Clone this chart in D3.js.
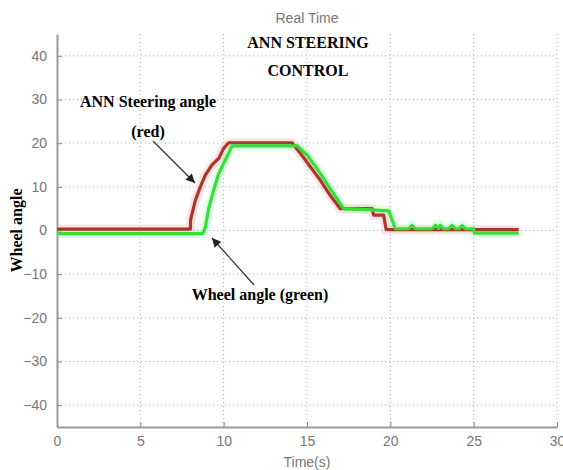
<!DOCTYPE html>
<html>
<head>
<meta charset="utf-8">
<script src="https://cdn.jsdelivr.net/npm/d3@7"></script>
<style>
  body { margin: 0; background: #fff; }
  svg { display: block; }
</style>
</head>
<body>
<div id="chart"></div>
<script>
// data
var xTicks = [0, 5, 10, 15, 20, 25, 30];
var yTicks = [-40, -30, -20, -10, 0, 10, 20, 30, 40];

// ANN steering angle (red)
var redTime  = [0, 8.0, 8.02, 8.3, 8.6, 8.9, 9.3, 9.7, 10.0, 10.3, 14.1, 14.6, 15.2, 15.8, 16.4, 17.0, 18.9, 19.0, 19.6, 19.75, 27.7];
var redAngle = [0.3, 0.3, 2.5, 6.9, 10, 12.7, 15, 16.5, 18.8, 20.1, 20.1, 17.7, 14.6, 11.5, 8, 5, 5, 3.5, 3.5, 0.2, 0.2];

// wheel angle (green)
var greenTime  = [0, 8.75, 8.9, 9.1, 9.4, 9.7, 10.0, 10.25, 10.5, 14.4, 15.0, 15.6, 16.2, 16.8, 17.2, 18.6, 19.9, 20.3, 21.1, 21.3, 21.5, 22.5, 22.7, 22.9, 23.0, 23.2, 23.5, 23.7, 23.9, 24.1, 24.3, 24.5, 25.0, 25.05, 27.7];
var greenAngle = [-0.7, -0.7, 0.8, 5, 9.2, 13, 15.4, 17.3, 19.4, 19.4, 17.3, 14.2, 10.7, 7.3, 5, 4.8, 4.5, 0.4, 0.4, 1.2, 0.4, 0.4, 1.2, 0.5, 1.2, 0.4, 0.4, 1.2, 0.4, 0.4, 1.1, 0.4, 0.4, -0.6, -0.6];

var width = 563, height = 470
  , margin = { left: 57, right: 6, top: 34, bottom: 43 }
;

var svg = d3.select('#chart').append('svg')
    .attr('width', width)
    .attr('height', height);

svg.append('rect').attr('width', width).attr('height', height).attr('fill', '#fff');

var x = d3.scaleLinear().domain([0, 30]).range([margin.left, width - margin.right]);
var y = d3.scaleLinear().domain([-45, 45]).range([height - margin.bottom, margin.top]);

var defs = svg.append('defs');
defs.append('marker')
    .attr('id', 'arrow')
    .attr('viewBox', '0 0 10 10')
    .attr('refX', 10).attr('refY', 5)
    .attr('markerWidth', 12).attr('markerHeight', 9)
    .attr('markerUnits', 'userSpaceOnUse')
    .attr('orient', 'auto')
  .append('path')
    .attr('d', 'M0,0 L10,5 L0,10 z')
    .attr('fill', '#222');

// grid
var grid = svg.append('g').attr('class', 'grid')
    .attr('stroke', '#aaa').attr('stroke-width', 1).attr('stroke-dasharray', '1,3');

grid.selectAll('line.gx').data(xTicks.slice(1)).enter().append('line')
    .attr('x1', function (d) { return x(d); }).attr('x2', function (d) { return x(d); })
    .attr('y1', y(-45)).attr('y2', y(45));

grid.selectAll('line.gy').data(yTicks).enter().append('line')
    .attr('x1', x(0)).attr('x2', x(30))
    .attr('y1', function (d) { return y(d); }).attr('y2', function (d) { return y(d); });

// axes
var xAxis = d3.axisBottom(x).tickValues(xTicks).tickSizeInner(-5).tickSizeOuter(0).tickPadding(9);
var yAxis = d3.axisLeft(y).tickValues(yTicks).tickSizeInner(-5).tickSizeOuter(0).tickPadding(10);

var gx = svg.append('g').attr('transform', 'translate(0,' + y(-45) + ')').call(xAxis);
var gy = svg.append('g').attr('transform', 'translate(' + x(0) + ',0)').call(yAxis);

[gx, gy].forEach(function (g) {
  g.select('.domain').attr('stroke', '#999').attr('stroke-width', 2);
  g.selectAll('.tick line').attr('stroke', '#888');
  g.selectAll('.tick text')
    .attr('fill', '#777')
    .style('font-family', 'Liberation Sans, Arial, sans-serif')
    .style('font-size', '14px');
});

// lines
var line = d3.line()
    .x(function (d) { return x(d[0]); })
    .y(function (d) { return y(d[1]); });

var red = d3.zip(redTime, redAngle);
var green = d3.zip(greenTime, greenAngle);

svg.append('path').datum(red).attr('d', line)
    .attr('fill', 'none').attr('stroke', 'rgba(255,140,140,0.25)').attr('stroke-width', 9);
svg.append('path').datum(green).attr('d', line)
    .attr('fill', 'none').attr('stroke', 'rgba(120,255,160,0.25)').attr('stroke-width', 9);

svg.append('path').datum(red).attr('d', line)
    .attr('fill', 'none').attr('stroke', '#a8372c').attr('stroke-width', 3.2)
    .attr('stroke-linejoin', 'round');
svg.append('path').datum(green).attr('d', line)
    .attr('fill', 'none').attr('stroke', '#35e035').attr('stroke-width', 3.2)
    .attr('stroke-linejoin', 'round');

// titles and labels
svg.append('text')
    .attr('x', x(15)).attr('y', 23)
    .attr('text-anchor', 'middle')
    .attr('fill', '#777')
    .style('font-family', 'Liberation Sans, Arial, sans-serif')
    .style('font-size', '14px')
    .text('Real Time');

svg.append('text')
    .attr('x', x(15)).attr('y', 467)
    .attr('text-anchor', 'middle')
    .attr('fill', '#777')
    .style('font-family', 'Liberation Sans, Arial, sans-serif')
    .style('font-size', '14px')
    .text('Time(s)');

function boldText(tx, ty, str, size, anchor) {
  return svg.append('text')
      .attr('x', tx).attr('y', ty)
      .attr('text-anchor', anchor || 'middle')
      .attr('fill', '#000')
      .style('font-family', 'Liberation Serif, Times New Roman, serif')
      .style('font-weight', 'bold')
      .style('font-size', size + 'px')
      .text(str);
}

boldText(308, 48, 'ANN STEERING', 16);
boldText(308, 76, 'CONTROL', 16);
boldText(148, 107, 'ANN Steering angle', 16);
boldText(148, 137, '(red)', 16);
boldText(260, 300, 'Wheel angle (green)', 16);

svg.append('text')
    .attr('transform', 'translate(22,' + y(0) + ') rotate(-90)')
    .attr('text-anchor', 'middle')
    .attr('fill', '#000')
    .style('font-family', 'Liberation Serif, Times New Roman, serif')
    .style('font-weight', 'bold')
    .style('font-size', '16px')
    .text('Wheel angle');

// annotation arrows
svg.append('line')
    .attr('x1', 153).attr('y1', 141).attr('x2', 195).attr('y2', 183)
    .attr('stroke', '#333').attr('stroke-width', 1.2)
    .attr('marker-end', 'url(#arrow)');
svg.append('line')
    .attr('x1', 254).attr('y1', 285).attr('x2', 212).attr('y2', 238)
    .attr('stroke', '#333').attr('stroke-width', 1.2)
    .attr('marker-end', 'url(#arrow)');
</script>
</body>
</html>
